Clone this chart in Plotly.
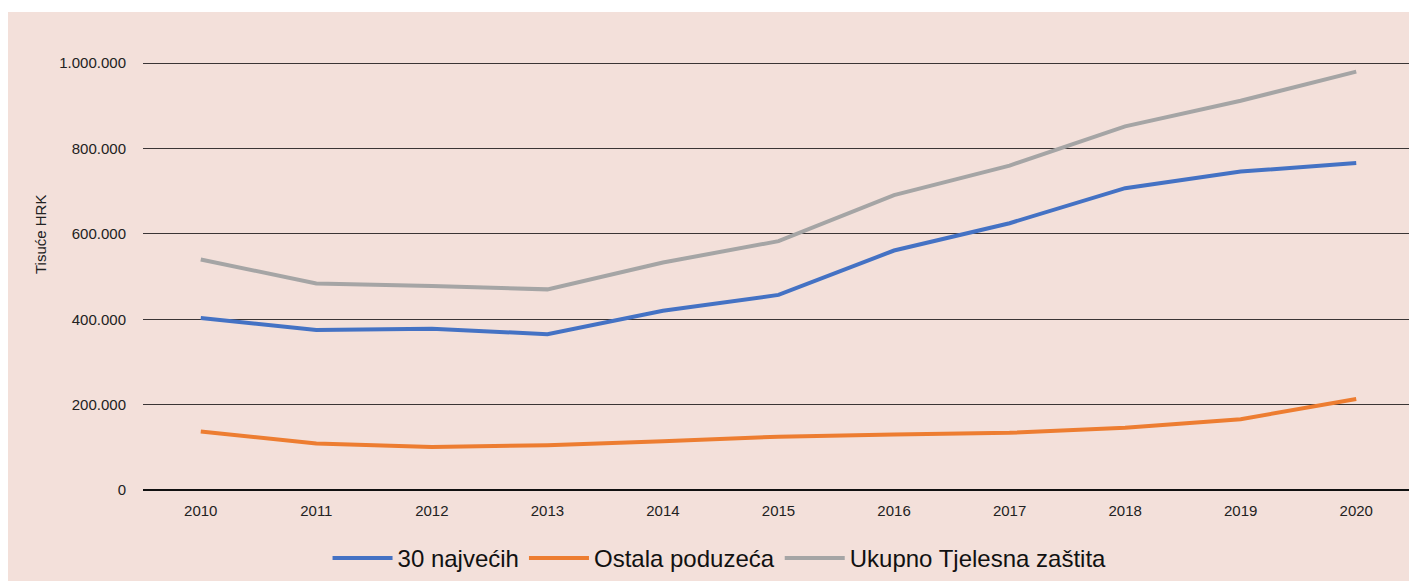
import plotly.graph_objects as go

years = ["2010", "2011", "2012", "2013", "2014", "2015", "2016", "2017", "2018", "2019", "2020"]
najvecih_30 = [403000, 375000, 378000, 365000, 420000, 457000, 561000, 625000, 707000, 746000, 766000]
ostala = [137000, 109000, 101000, 105000, 114000, 125000, 130000, 134000, 146000, 166000, 213000]
ukupno = [540000, 484000, 478000, 470000, 533000, 583000, 691000, 760000, 852000, 912000, 980000]

series_names = ["30 najvećih", "Ostala poduzeća", "Ukupno Tjelesna zaštita"]
colors = ["#4472C4", "#ED7D31", "#A5A5A5"]
y_ticks = [0, 200000, 400000, 600000, 800000, 1000000]

W, H = 1409, 573
L, R, T, B = 135, 3, 53, 91
plot_h = H - T - B

fig = go.Figure()
for name, vals, col in zip(series_names, [najvecih_30, ostala, ukupno], colors):
    fig.add_trace(go.Scatter(x=years, y=vals, name=name, mode="lines",
                             line=dict(color=col, width=4)))

bg = "#F3E0DA"
fig.update_layout(
    width=W, height=H,
    paper_bgcolor=bg, plot_bgcolor=bg,
    separators=",.",
    margin=dict(l=L, r=R, t=T, b=B),
    font=dict(family="Liberation Sans, Arial, sans-serif", color="#222222"),
    showlegend=True,
    legend=dict(orientation="h", xref="container", yref="container",
                x=0.505, xanchor="center", y=0.0, yanchor="bottom",
                font=dict(size=24, color="#111111"), itemwidth=60,
                bgcolor="rgba(0,0,0,0)", traceorder="normal"),
    shapes=[dict(type="rect", xref="paper", yref="paper", layer="above",
                 x0=-0.2, x1=1.1, y0=1 + (T - 4) / plot_h, y1=1 + (T + 2) / plot_h,
                 fillcolor="white", line=dict(width=0))],
    annotations=[dict(text="Tisuće HRK", xref="paper", yref="paper",
                      x=(32 - L) / (W - L - R), y=(H - B - 227) / plot_h,
                      xanchor="center", yanchor="middle", textangle=-90,
                      showarrow=False, font=dict(size=15, color="#222222"))],
)
fig.update_xaxes(type="category", range=[-0.5, 10.5], showgrid=False,
                 showline=False, zeroline=False, ticks="",
                 tickfont=dict(size=15, color="#222222"), ticklabelstandoff=10)
fig.update_yaxes(range=[0, 1005000], tickvals=y_ticks,
                 tickformat=",d", showgrid=True, gridcolor="#3a3535", gridwidth=1.3,
                 zeroline=True, zerolinecolor="#111111", zerolinewidth=2,
                 showline=False, ticks="", ticklabelstandoff=16,
                 tickfont=dict(size=15, color="#222222"))

fig.write_html("out.html")
